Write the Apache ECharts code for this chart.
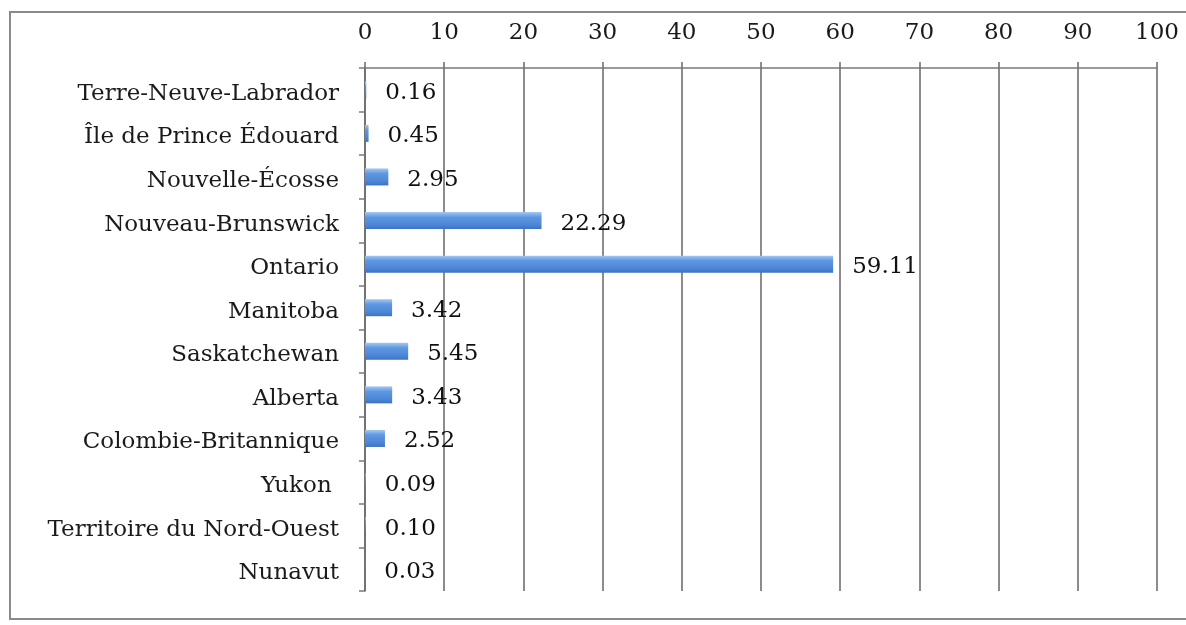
<!DOCTYPE html>
<html>
<head>
<meta charset="utf-8">
<script src="https://cdn.jsdelivr.net/npm/echarts@6/dist/echarts.min.js"></script>
<style>
html,body{margin:0;padding:0;background:#fff;}
#chart{width:1186px;height:625px;}
</style>
</head>
<body>
<div id="chart"></div>
<script>
const categories = ['Terre-Neuve-Labrador', 'Île de Prince Édouard', 'Nouvelle-Écosse', 'Nouveau-Brunswick', 'Ontario', 'Manitoba', 'Saskatchewan', 'Alberta', 'Colombie-Britannique', 'Yukon ', 'Territoire du Nord-Ouest', 'Nunavut'];
const values = [0.16, 0.45, 2.95, 22.29, 59.11, 3.42, 5.45, 3.43, 2.52, 0.09, 0.10, 0.03];
const valueLabels = ['0.16', '0.45', '2.95', '22.29', '59.11', '3.42', '5.45', '3.43', '2.52', '0.09', '0.10', '0.03'];

const FONT = 'DejaVu Serif';
const chart = echarts.init(document.getElementById('chart'));
chart.setOption({
  backgroundColor: '#fff',
  animation: false,
  graphic: [{
    type: 'rect',
    shape: { x: 10, y: 12, width: 1190, height: 607 },
    style: { fill: 'none', stroke: '#8a8a8a', lineWidth: 2 },
    silent: true, z: -1
  }],
  grid: { left: 365, right: 29, top: 68, bottom: 34, containLabel: false },
  xAxis: {
    type: 'value', position: 'top', min: 0, max: 100, interval: 10,
    axisLine: { show: true, lineStyle: { color: '#7a7a7a', width: 1.5 } },
    axisTick: { show: true, length: 6, lineStyle: { color: '#6a6a6a', width: 1.5 } },
    splitLine: { show: true, lineStyle: { color: '#666', width: 1.5 } },
    axisLabel: { color: '#1a1a1a', fontFamily: FONT, fontSize: 23, margin: 23 }
  },
  yAxis: {
    type: 'category', data: categories, inverse: true,
    axisLine: { show: true, lineStyle: { color: '#6a6a6a', width: 1.5 } },
    axisTick: { show: true, length: 6, lineStyle: { color: '#7a7a7a', width: 1.5 } },
    axisLabel: {
      color: '#1a1a1a', fontFamily: FONT, fontSize: 23, margin: 26,
      formatter: v => '{a|' + v + '}',
      rich: { a: { color: '#1a1a1a', fontFamily: FONT, fontSize: 23, padding: [8, 0, 0, 0] } }
    }
  },
  series: [{
    type: 'bar', data: values, barWidth: 17,
    itemStyle: {
      color: new echarts.graphic.LinearGradient(0, 0, 0, 1, [
        { offset: 0, color: '#a5c8f2' },
        { offset: 0.3, color: '#5e98e2' },
        { offset: 0.75, color: '#4c86d6' },
        { offset: 1, color: '#3f72c0' }
      ])
    },
    label: {
      show: true, position: 'right', distance: 19, offset: [0, 3],
      color: '#111', fontFamily: FONT, fontSize: 23,
      formatter: p => valueLabels[p.dataIndex]
    }
  }]
});
</script>
</body>
</html>
